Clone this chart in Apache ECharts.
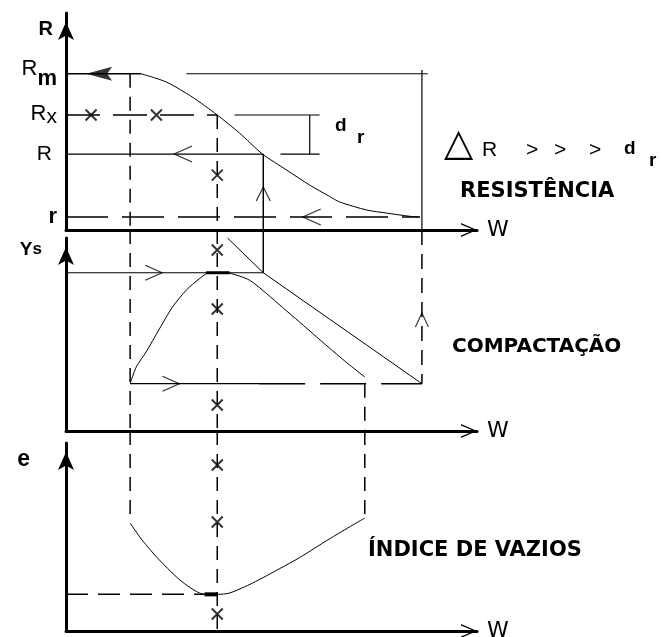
<!DOCTYPE html>
<html><head><meta charset="utf-8">
<script src="https://cdn.jsdelivr.net/npm/echarts@6/dist/echarts.min.js"></script>
<style>html,body{margin:0;background:#fff}#c{width:662px;height:637px}</style>
</head><body><div id="c"></div>
<script>
// ---------------- DATA (W = moisture, schematic units 0..100) ----------------
// guide abscissas
const wLeft = 15.6;      // start of compaction / void-ratio curves
const wOpt = 36.8;       // optimum moisture
const wProj = 48.0;      // projection of Ys max onto resistance curve
const wRight = 72.7;     // end of compaction / void-ratio curves
const wSat = 86.6;       // end of saturation line / ΔR dimension

// Panel 1 – RESISTÊNCIA
const resTickValues = [72, 53, 35, 6];
const resTickMain = ['R', 'R', 'R', 'r'];
const resTickSub = ['m', 'x', '', ''];
const resCurveW = [18.3, 24.4, 30.7, 36.8, 42.2, 47.8, 53.7, 59.3, 64.1, 66.6, 73.2, 78.0, 83.7, 86.1];
const resCurveR = [72, 68.2, 61.3, 53.0, 44.7, 35.0, 27.6, 20.7, 15.5, 12.9, 9.2, 7.8, 6.3, 6.0];
const resMarkW = [6.1, 22.0, 36.8];
const resMarkR = [53, 53, 25.3];
const resExtRm = [29.3, 88.0];     // right extension of Rm line
const resExtRx = [41.0, 61.7];     // right extension of Rx line
const resExtR = [52.2, 61.7];      // right extension of R line
const resDimDrW = 59.3;            // d_r dimension line
const resDimTop = 73.7;            // top of ΔR dimension line
const resArrowLeftW = [26.3, 57.6];
const resArrowLeftR = [35, 6];
const resArrowUpW = [48.0];
const resArrowUpR = [19.8];
const resRmHeadW = [4.9];

// Panel 2 – COMPACTAÇÃO
const compTop = 104.1;             // panel-1 axis level in panel-2 units
const compMax = 82;
const compLow = 24.5;
const compCurveW = [15.6, 17.1, 19.5, 22.7, 25.9, 29.3, 32.4, 34.4, 36.8, 39.8, 44.6, 48.8, 52.7, 56.8, 61.0, 64.9, 69.0, 72.7];
const compCurveY = [24.5, 33.2, 41.0, 52.8, 64.2, 73.1, 78.8, 81.7, 82.0, 81.7, 78.2, 71.2, 64.0, 56.5, 48.7, 41.5, 34.2, 28.0];
const satLineW = [39.3, 48.0, 86.6];
const satLineY = [100, 82, 24.5];
const compPeakW = [34.1, 39.8];
const compLowSolidEnd = 47.0;
const compMarkY = [93.8, 63.2, 13.5];
const compArrowRightW = [23.4, 27.6];
const compArrowRightY = [82, 24.5];
const compArrowUpY = [61.1];

// Panel 3 – ÍNDICE DE VAZIOS
const voidTop = 106.4;             // panel-2 axis level in panel-3 units
const voidCurveW = [15.6, 18.5, 22.7, 28.3, 33.7, 36.8, 39.8, 45.4, 52.0, 56.8, 64.1, 72.7];
const voidCurveE = [57.4, 48.4, 37.8, 26.1, 19.5, 19.5, 20.2, 25.5, 33.2, 39.0, 49.0, 60.1];
const voidMin = 19.5;
const voidMinThickW = [33.7, 36.8];
const voidMarkY = [88.3, 58.0, 9.0];

// ---------------- helpers ----------------
const BLACK = '#000';
const zip = (a, b) => a.map((v, i) => [v, b[i]]);
function seg(gi, data, width, type, extra) {
  return Object.assign({
    type: 'line', xAxisIndex: gi, yAxisIndex: gi, data: data, symbol: 'none',
    clip: false, silent: true, animation: false,
    lineStyle: { color: BLACK, width: width, type: type || 'solid' }
  }, extra || {});
}
const CURVE = { smooth: 0.25 };
const X_PATH = 'path://M0,0 L10,10 M10,0 L0,10';
const CHEV_L = 'path://M16,0 L0,7 L16,14';
const CHEV_R = 'path://M0,0 L16,7 L0,14';
const CHEV_U = 'path://M0,14 L7,0 L14,14';
function marks(gi, data, path, size, offset, bw) {
  return {
    type: 'scatter', xAxisIndex: gi, yAxisIndex: gi, data: data, symbol: path,
    symbolSize: size, symbolOffset: offset || [0, 0], clip: false, silent: true, animation: false,
    itemStyle: { color: 'rgba(0,0,0,0)', borderColor: BLACK, borderWidth: bw || 1.2 }, z: 5
  };
}
const AXIS_CHEVRON = 'path://M0,16 L7,0 L14,16 L12.6,16 L7,3 L1.4,16 Z';

function xAx(gi) {
  return {
    type: 'value', gridIndex: gi, min: 0, max: 100,
    axisLine: { show: true, onZero: true, lineStyle: { color: BLACK, width: 3 },
      symbol: ['none', AXIS_CHEVRON], symbolSize: [14, 16], symbolOffset: [0, -8] },
    axisTick: { show: false }, axisLabel: { show: false }, splitLine: { show: false },
    name: 'W', nameLocation: 'end', nameGap: 10, nameMoveOverlap: false,
    nameTextStyle: { fontFamily: 'DejaVu Sans', fontSize: 22, color: BLACK, verticalAlign: 'middle', padding: [12, 0, 0, 0] }
  };
}
function yAx(gi, name, gap, padRight, rich, labelCfg) {
  return {
    type: 'value', gridIndex: gi, min: 0, max: 100,
    axisLine: { show: true, onZero: true, lineStyle: { color: BLACK, width: 3 },
      symbol: ['none', 'arrow'], symbolSize: [12, 18], symbolOffset: [0, -9] },
    axisTick: { show: false }, splitLine: { show: false },
    axisLabel: labelCfg || { show: false },
    name: name, nameLocation: 'end', nameGap: gap, nameMoveOverlap: false,
    nameTextStyle: { color: BLACK, align: 'right', verticalAlign: 'top', padding: [0, padRight, 0, 0], rich: rich }
  };
}

const resLabel = {
  show: true, customValues: resTickValues, margin: 9, color: BLACK,
  formatter: function (v) {
    const i = resTickValues.indexOf(v);
    if (i < 0) return '';
    const sub = resTickSub[i];
    if (resTickMain[i] === 'r') return '{r|r}';
    if (!sub) return '{p|R}';
    return '{a|' + resTickMain[i] + '}{' + sub + '|' + sub + '}';
  },
  rich: {
    a: { fontFamily: 'Liberation Sans', fontSize: 22, color: BLACK, verticalAlign: 'top' },
    p: { fontFamily: 'Liberation Sans', fontSize: 21, color: BLACK, padding: [0, 5, 0, 0] },
    m: { fontFamily: 'Liberation Sans', fontSize: 22, fontWeight: 'bold', color: BLACK, verticalAlign: 'bottom', padding: [10, 0, 0, 0] },
    x: { fontFamily: 'Liberation Sans', fontSize: 21, color: BLACK, verticalAlign: 'bottom', padding: [4, 0, 0, 0] },
    r: { fontFamily: 'Liberation Sans', fontSize: 22, fontWeight: 'bold', color: BLACK, padding: [0, 0, 0, 0] }
  }
};

const series = [
  // ---- panel 1 ----
  seg(0, [[0, resTickValues[0]], [resCurveW[0], resTickValues[0]]], 1.5),
  seg(0, zip(resCurveW, resCurveR), 1, 'solid', CURVE),
  seg(0, [[resExtRm[0], resTickValues[0]], [resExtRm[1], resTickValues[0]]], 1.2),
  seg(0, [[0, resTickValues[1]], [wOpt, resTickValues[1]]], 1.5, [34, 13]),
  seg(0, [[resExtRx[0], resTickValues[1]], [resExtRx[1], resTickValues[1]]], 1.2),
  seg(0, [[0, resTickValues[2]], [wProj, resTickValues[2]]], 1.2),
  seg(0, [[resExtR[0], resTickValues[2]], [resExtR[1], resTickValues[2]]], 1.2),
  seg(0, [[0, resTickValues[3]], [resCurveW[resCurveW.length - 1], resTickValues[3]]], 1.5, [42, 14]),
  seg(0, [[wSat, resDimTop], [wSat, 0]], 1.2),
  seg(0, [[resDimDrW, resTickValues[1]], [resDimDrW, resTickValues[2]]], 1.2),
  seg(0, [[wLeft, resTickValues[0]], [wLeft, 0]], 1.5, [14, 9]),
  seg(0, [[wOpt, resTickValues[1]], [wOpt, 0]], 1.5, [14, 9]),
  seg(0, [[wProj, resTickValues[2]], [wProj, 0]], 1.5),
  marks(0, zip(resMarkW, resMarkR), X_PATH, 11, [0, 0], 2),
  marks(0, zip(resArrowLeftW, resArrowLeftR), CHEV_L, [18, 16], [9, 0]),
  marks(0, zip(resArrowUpW, resArrowUpR), CHEV_U, [14, 14], [0, 7]),
  {
    type: 'scatter', xAxisIndex: 0, yAxisIndex: 0, data: resRmHeadW.map(w => [w, resTickValues[0]]),
    symbol: 'path://M0,7 L26,0 L21,7 L26,14 Z', symbolSize: [26, 14], symbolOffset: [13, 0],
    itemStyle: { color: BLACK }, silent: true, animation: false, z: 5
  },
  // ---- panel 2 ----
  seg(1, [[0, compMax], [wProj, compMax]], 1.2),
  seg(1, [[wProj, compTop], [wProj, compMax]], 1.5),
  seg(1, zip(compCurveW, compCurveY), 1, 'solid', CURVE),
  seg(1, zip(satLineW, satLineY), 1),
  seg(1, [[compPeakW[0], compMax], [compPeakW[1], compMax]], 3),
  seg(1, [[wLeft, compLow], [compLowSolidEnd, compLow]], 1.2),
  seg(1, [[compLowSolidEnd, compLow], [wSat, compLow]], 1.5, [46, 15]),
  seg(1, [[wSat, compTop], [wSat, compLow]], 1.5, [15, 9]),
  seg(1, [[wLeft, compTop], [wLeft, 0]], 1.5, [14, 9]),
  seg(1, [[wOpt, compTop], [wOpt, 0]], 1.5, [14, 9]),
  seg(1, [[wRight, compLow], [wRight, 0]], 1.5, [14, 9]),
  marks(1, compMarkY.map(v => [wOpt, v]), X_PATH, 11, [0, 0], 2),
  marks(1, zip(compArrowRightW, compArrowRightY), CHEV_R, [17, 15], [-8.5, 0]),
  marks(1, compArrowUpY.map(v => [wSat, v]), CHEV_U, [13, 14], [0, 7]),
  // ---- panel 3 ----
  seg(2, zip(voidCurveW, voidCurveE), 1, 'solid', CURVE),
  seg(2, [[0, voidMin], [voidMinThickW[0], voidMin]], 1.5, [22, 10]),
  seg(2, [[voidMinThickW[0], voidMin], [voidMinThickW[1], voidMin]], 4),
  seg(2, [[wLeft, voidTop], [wLeft, voidCurveE[0]]], 1.5, [14, 9]),
  seg(2, [[wOpt, voidTop], [wOpt, 0]], 1.5, [14, 9]),
  seg(2, [[wRight, voidTop], [wRight, voidCurveE[voidCurveE.length - 1]]], 1.5, [14, 9]),
  marks(2, voidMarkY.map(v => [wOpt, v]), X_PATH, 11, [0, 0], 2)
];

const T = (text, left, top, font) => ({ type: 'text', left: left, top: top, silent: true,
  style: { text: text, font: font, fill: BLACK } });
const REG = '21px "Liberation Sans"';
const BOLD = 'bold 19px "Liberation Sans"';

const option = {
  animation: false,
  backgroundColor: '#fff',
  textStyle: { fontFamily: 'Liberation Sans', color: BLACK },
  grid: [
    { left: 66, top: 13, width: 411, height: 217, outerBoundsMode: 'none', containLabel: false },
    { left: 66, top: 238, width: 411, height: 193, outerBoundsMode: 'none', containLabel: false },
    { left: 66, top: 443, width: 411, height: 188, outerBoundsMode: 'none', containLabel: false }
  ],
  xAxis: [xAx(0), xAx(1), xAx(2)],
  yAxis: [
    yAx(0, '{n|R}', -6, 13, { n: { fontFamily: 'Liberation Sans', fontSize: 20, fontWeight: 'bold', color: BLACK } }, resLabel),
    yAx(1, '{n|Y}{s|s}', -2, 24, { n: { fontFamily: 'Liberation Sans', fontSize: 19, fontWeight: 'bold', color: BLACK },
                                   s: { fontFamily: 'Liberation Sans', fontSize: 17, fontWeight: 'bold', color: BLACK } }),
    yAx(2, '{n|e}', -5, 36, { n: { fontFamily: 'Liberation Sans', fontSize: 23, fontWeight: 'bold', color: BLACK } })
  ],
  series: series,
  graphic: [
    T('d', 335, 116, BOLD),
    T('r', 357, 128, BOLD),
    T('\u25B3', 444, 126, '38px "DejaVu Sans"'),
    T('R', 482, 140, REG),
    T('>', 526, 140, REG),
    T('>', 554, 140, REG),
    T('>', 589, 140, REG),
    T('d', 624, 139, BOLD),
    T('r', 649, 151, BOLD),
    T('RESISTÊNCIA', 460, 181, 'bold 21px "DejaVu Sans"'),
    T('COMPACTAÇÃO', 452, 337, 'bold 20px "DejaVu Sans"'),
    T('ÍNDICE DE VAZIOS', 368, 540, 'bold 21px "DejaVu Sans"')
  ]
};
echarts.init(document.getElementById('c'), null, { renderer: 'canvas' }).setOption(option);
</script></body></html>
